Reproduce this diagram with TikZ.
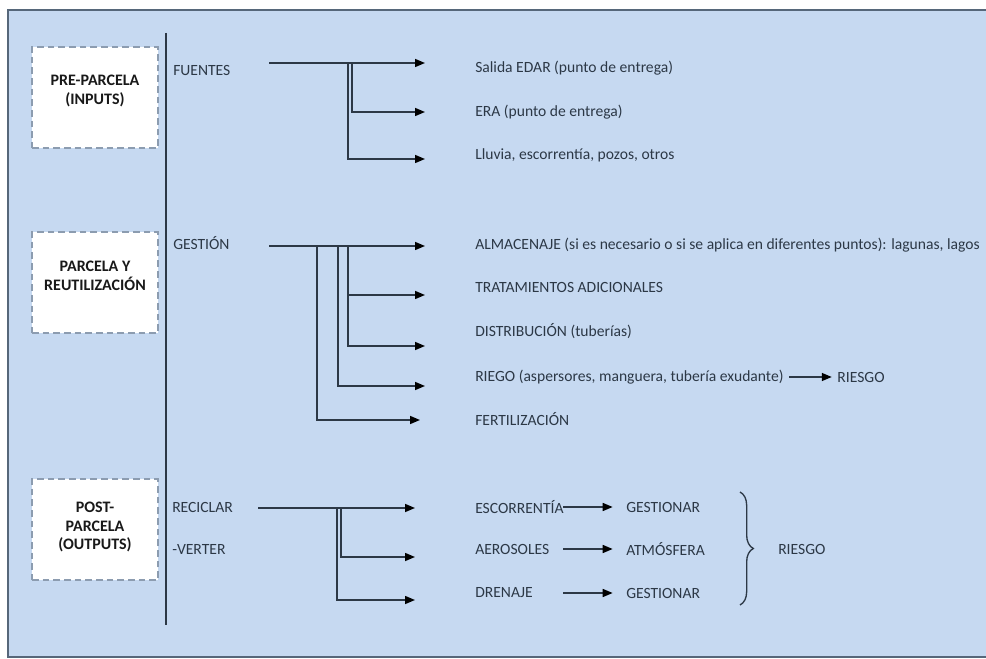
\documentclass[tikz,border=0pt]{standalone}
\usepackage{fontspec}
\setmainfont{Carlito}
\usetikzlibrary{arrows.meta,
                positioning,
                decorations.pathreplacing}
\definecolor{panel}{HTML}{C6D9F1}
\definecolor{frame}{HTML}{56677A}
\definecolor{ink}{HTML}{2C3846}
\definecolor{dashgray}{HTML}{8C9CB0}
\tikzset{phase/.style={draw=dashgray, dash pattern=on 5pt off 3pt, line width=1.4pt,
        fill=white, minimum width=94.5pt, minimum height=75.75pt, inner sep=0pt},
    phasetxt/.style={font=\fontsize{12}{14}\selectfont\bfseries, align=center,
        text=black!90, inner sep=0pt},
    lbl/.style={anchor=west, inner sep=0pt, text=ink},
    stem/.style={draw=ink, line width=1.1pt},
    flow/.style={stem, -{Triangle[length=7.5pt,width=6pt,color=black]}}}

\begin{document}
\begin{tikzpicture}[x=0.75pt,y=-0.75pt,font=\fontsize{11.7}{13}\selectfont]
        \useasboundingbox (0,0) rectangle (986,659);
        \clip (0,0) rectangle (986,659);
        \fill[white] (0,0) rectangle (986,659);
        \draw[frame, line width=1.5pt, fill=panel] (8,10) rectangle (1000,657);
        \draw[ink, line width=1.3pt] (166,33) -- (166,625);

        % left column
        \node[phase] (pre) at (95,97.5) {};
        \node[phasetxt] (pretxt) at (95,91) {PRE-PARCELA\\(INPUTS)};
        \node[phase] (par) at (95,282.5) {};
        \node[phasetxt] (partxt) at (95,276) {PARCELA Y\\REUTILIZACIÓN};
        \node[phase] (post) at (95,529.5) {};
        \node[phasetxt] (posttxt) at (95,527) {POST-\\PARCELA\\(OUTPUTS)};

        \node[lbl] (fuentes) at (173,70) {FUENTES};
        \node[lbl] (gestion) at (173,243) {GESTIÓN};
        \node[lbl] (reciclar) at (172,507) {RECICLAR};
        \node[lbl] (verter) at (172,549) {-VERTER};

        % targets
        \foreach \n/\y/\t in {sal/68/{Salida EDAR (punto de entrega)},
                              era/112/{ERA (punto de entrega)},
                              llu/155/{Lluvia, escorrentía, pozos, otros},
                              alm/245/{ALMACENAJE (si es necesario o si se aplica en diferentes puntos): lagunas, lagos},
                              tra/287/{TRATAMIENTOS ADICIONALES},
                              dis/331/{DISTRIBUCIÓN (tuberías)},
                              rie/377/{RIEGO (aspersores, manguera, tubería exudante)},
                              fer/419/{FERTILIZACIÓN},
                              esc/507/{ESCORRENTÍA},
                              aer/549/{AEROSOLES},
                              dre/593/{DRENAJE}}
            \node[lbl] (\n) at (475,\y) {\t};
        \node[lbl, right=40pt of rie] (riesgoA) {RIESGO};
        \node[lbl] (ges1) at (626,507) {GESTIONAR};
        \node[lbl] (atm) at (626,549) {ATMÓSFERA};
        \node[lbl] (ges2) at (626,593) {GESTIONAR};
        \node[lbl] (riesgoB) at (778,549) {RIESGO};

        % FUENTES branches
        \coordinate (fs) at (269,63);
        \coordinate (fj1) at (352,63);
        \coordinate (fj2) at (348,63);
        \coordinate (fe1) at (425,63);
        \coordinate (fe2) at (425,112);
        \coordinate (fe3) at (425,159);
        \draw[flow] (fs) -- (fe1);
        \foreach \j/\e in {fj1/fe2, fj2/fe3}
            \draw[flow] (\j) |- (\e);

        % GESTION branches
        \coordinate (gs) at (269,246);
        \coordinate (gj1) at (348,246);
        \coordinate (gj2) at (338,246);
        \coordinate (gj3) at (317,246);
        \coordinate (ge1) at (425,246);
        \coordinate (ge2) at (425,295);
        \coordinate (ge3) at (425,346);
        \coordinate (ge4) at (425,386);
        \coordinate (ge5) at (420,420);
        \draw[flow] (gs) -- (ge1);
        \foreach \j/\e in {gj1/ge2, gj1/ge3, gj2/ge4, gj3/ge5}
            \draw[flow] (\j) |- (\e);
        \draw[flow, shorten <=4pt, shorten >=4pt] (rie) -- (riesgoA);

        % RECICLAR branches
        \coordinate (rs) at (258,508);
        \coordinate (rj1) at (341,508);
        \coordinate (rj2) at (337,508);
        \coordinate (re1) at (415,508);
        \coordinate (re2) at (415,557);
        \coordinate (re3) at (415,600);
        \draw[flow] (rs) -- (re1);
        \foreach \j/\e in {rj1/re2, rj2/re3}
            \draw[flow] (\j) |- (\e);

        \foreach \s/\y/\t in {o1/507/ges1, o2/549/atm, o3/593/ges2}
        {
            \coordinate (\s) at (563,\y);
            \draw[flow, shorten >=10pt] (\s) -- (\t);
        }

        \coordinate (bt) at (740,492);
        \coordinate (bb) at (740,605);
        \draw[ink, line width=1pt, decorate, decoration={brace, amplitude=10pt}] (bt) -- (bb);
    \end{tikzpicture}
\end{document}
